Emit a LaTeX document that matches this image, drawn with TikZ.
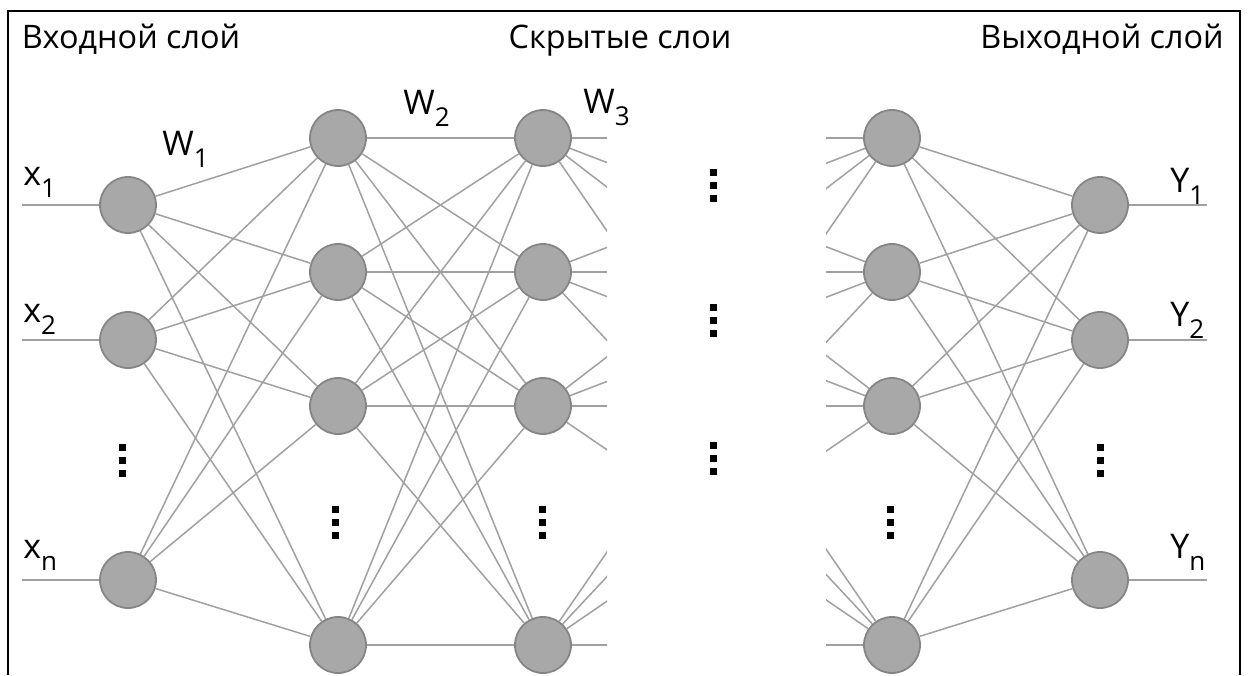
\documentclass[tikz,border=0pt]{standalone}
\usepackage{fontspec}
\setmainfont{Open Sans}
\usetikzlibrary{backgrounds}
\definecolor{nfill}{HTML}{A8A8A8}
\definecolor{nedge}{HTML}{858585}
\definecolor{lgray}{HTML}{A0A0A0}
\newcommand{\sub}[1]{\raisebox{-0.36em}{\fontsize{13}{13}\selectfont #1}}
\begin{document}
\begin{tikzpicture}[x=0.5pt,y=-0.5pt,
  neuron/.style={circle, fill=nfill, draw=nedge, line width=0.9pt, minimum size=28pt, inner sep=0pt},
  conn/.style={draw=lgray, line width=0.75pt},
  ttl/.style={font=\fontsize{16.2}{18}\selectfont, inner sep=0pt, anchor=base},
  lbl/.style={font=\fontsize{17}{19}\selectfont, inner sep=0pt, anchor=base west},
  frame/.style={draw=black, line width=1pt},
  sq/.style={fill=black, draw=none}]
\useasboundingbox (0,0) rectangle (1248,675);
% frame
\draw[frame] (8,675) coordinate (fl) -- (8,11) coordinate (ftl) -- (1240,11) coordinate (ftr) -- (1240,675) coordinate (fr);
% titles
\node[ttl] (t1) at (131,48) {Входной слой};
\node[ttl] (t2) at (620,48) {Скрытые слои};
\node[ttl] (t3) at (1102,48) {Выходной слой};
% neurons
\foreach \n/\y in {1/205,2/340,3/580} \node[neuron] (i\n) at (128,\y) {};
\foreach \n/\y in {1/138,2/272,3/406,4/645} {
  \node[neuron] (a\n) at (338,\y) {};
  \node[neuron] (b\n) at (543,\y) {};
  \node[neuron] (c\n) at (892,\y) {};
}
\foreach \n/\y in {1/205,2/340,3/580} \node[neuron] (o\n) at (1100,\y) {};
% free ends
\foreach \n/\y in {1/205,2/340,3/580} {
  \coordinate (xin\n) at (22,\y);
  \coordinate (yout\n) at (1207,\y);
}
\begin{scope}[on background layer]
  \foreach \n in {1,2,3} {
    \draw[conn] (xin\n) -- (i\n);
    \draw[conn] (o\n) -- (yout\n);
  }
  \foreach \p in {1,2,3} \foreach \q in {1,2,3,4} \draw[conn] (i\p) -- (a\q);
  \foreach \p in {1,2,3,4} \foreach \q in {1,2,3,4} \draw[conn] (a\p) -- (b\q);
  \foreach \p in {1,2,3,4} \foreach \q in {1,2,3} \draw[conn] (c\p) -- (o\q);
  \begin{scope}
    \clip (540,0) rectangle (607,675);
    \foreach \p in {1,2,3,4} \foreach \q in {1,2,3,4} \draw[conn] (b\p) -- (c\q);
  \end{scope}
  \begin{scope}
    \clip (826,0) rectangle (895,675);
    \foreach \p in {1,2,3,4} \foreach \q in {1,2,3,4} \draw[conn] (b\p) -- (c\q);
  \end{scope}
\end{scope}
% labels
\node[lbl] (lx1) at (23,185) {x\sub{1}};
\node[lbl] (lx2) at (23,322) {x\sub{2}};
\node[lbl] (lxn) at (23,558) {x\sub{n}};
\node[lbl] (lw1) at (162,155) {W\sub{1}};
\node[lbl] (lw2) at (403,114) {W\sub{2}};
\node[lbl] (lw3) at (583,113) {W\sub{3}};
\node[lbl] (ly1) at (1170,192) {Y\sub{1}};
\node[lbl] (ly2) at (1170,326) {Y\sub{2}};
\node[lbl] (lyn) at (1170,558) {Y\sub{n}};
% vertical ellipses
\foreach \x/\y in {122/460, 335/522, 542/522, 713/185, 713/320, 713/458, 890/522, 1100/460} {
  \foreach \d in {-13,0,13}
    \fill[sq] (\x-3.5,\y+\d-3.5) rectangle (\x+3.5,\y+\d+3.5);
}
\end{tikzpicture}
\end{document}
